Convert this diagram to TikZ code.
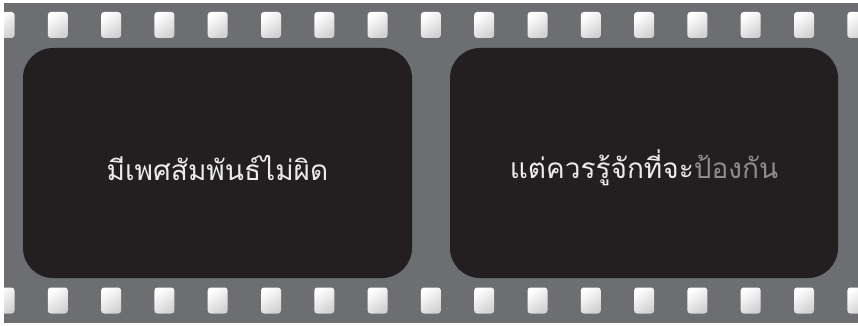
\documentclass[tikz,border=0pt]{standalone}
\usepackage{fontspec}
\newfontfamily\thaifont[Script=Thai]{Loma}
\usetikzlibrary{positioning}

\definecolor{filmgray}{HTML}{6D6E71}
\definecolor{framebg}{HTML}{231F20}
\definecolor{softgray}{HTML}{8C8C8E}

\tikzset{
    hole/.style={
        rounded corners=3pt,
        top color=white,
        bottom color=black!18,
        shading angle=35
    },
    frame/.style={
        fill=framebg,
        rounded corners=30pt
    },
    caption/.style={
        text=white!92!black,
        font=\thaifont\fontsize{28}{32}\selectfont,
        inner sep=0pt
    }
}

\begin{document}
\begin{tikzpicture}[x=1pt,y=-1pt]
\useasboundingbox (0,0) rectangle (858,326);
\fill[white] (0,0) rectangle (858,326);

% film strip
\fill[filmgray] (4,3) rectangle (858,323);

% sprocket holes
\begin{scope}
\clip (4,3) rectangle (858,323);
\foreach \k in {0,...,16}{
    \shade[hole] ({-5.5+53.3*\k},12) rectangle ++(20,26);
    \shade[hole] ({-5.5+53.3*\k},287.5) rectangle ++(20,26);
}
\end{scope}

% frames
\fill[frame] (23,48) rectangle (412,278);
\fill[frame] (450,48) rectangle (838,278);

\node[caption] (left) at (217.5,168) {มีเพศสัมพันธ์ไม่ผิด};
\node[caption] (right) at (644,168) {แต่ควรรู้จักที่จะ\textcolor{softgray}{ป้องกัน}};
\end{tikzpicture}
\end{document}
